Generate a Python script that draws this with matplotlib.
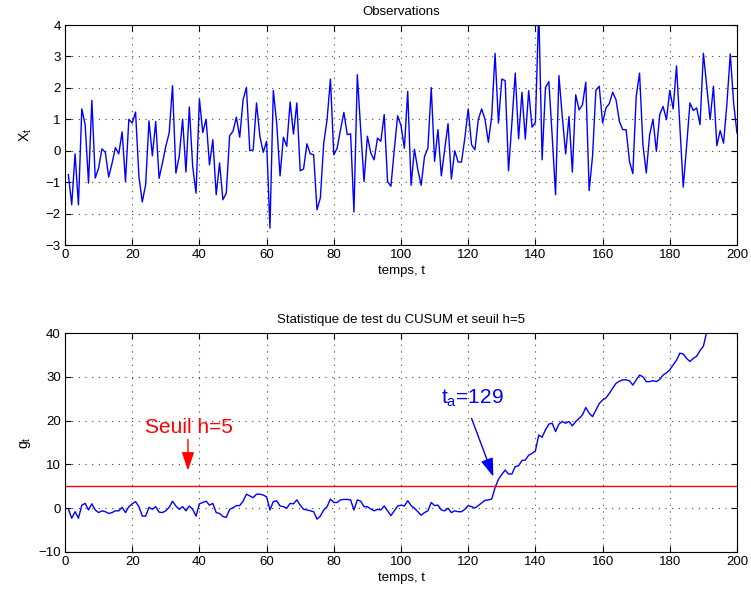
import numpy as np
import matplotlib
matplotlib.use("Agg")
import matplotlib.pyplot as plt

plt.rcParams['font.family'] = ['Liberation Sans', 'DejaVu Sans']
plt.rcParams['mathtext.fontset'] = 'custom'
plt.rcParams['mathtext.rm'] = 'Liberation Sans'
plt.rcParams['mathtext.it'] = 'Liberation Sans'

# ---- data ----
t = list(range(1, 201))
observations = [
    -0.76, -1.72, -0.10, -1.72, 1.33, 0.83, -1.03, 1.60, -0.87, -0.55,
    0.06, -0.05, -0.84, -0.40, 0.10, -0.10, 0.60, -0.98, 1.00, 0.88,
    1.23, -0.82, -1.63, -1.08, 0.95, -0.16, 0.93, -0.88, -0.39, 0.14,
    0.56, 2.07, -0.71, -0.18, 1.00, -0.68, 1.39, -0.50, -1.35, 1.65,
    0.58, 1.00, -0.45, 0.35, -1.40, -0.39, -1.56, -1.35, 0.48, 0.62,
    1.07, 0.43, 1.62, 2.01, 0.00, 0.03, 1.52, 0.46, -0.05, 0.30,
    -2.46, 1.92, 0.88, -0.80, 0.43, 0.14, 1.55, 0.53, 1.52, -0.64,
    -0.58, 0.22, -0.10, -0.13, -1.88, -1.50, 0.24, 0.99, 2.28, -0.13,
    0.08, 0.67, 1.22, 0.51, 0.54, -1.95, 2.42, 0.67, -0.98, 0.46,
    -0.07, -0.29, 0.40, 0.30, 1.15, -0.98, -1.13, 0.03, 1.11, 0.80,
    0.08, 1.89, -1.10, 0.05, -0.60, -1.10, -0.18, 0.08, 2.01, -0.34,
    0.67, -0.80, 0.03, 0.86, -0.90, 0.00, -0.36, -0.36, 0.40, 1.33,
    0.19, 0.03, 0.99, 1.33, 1.00, 0.27, 1.10, 3.10, 0.88, 2.28,
    2.23, -0.64, 0.88, 2.47, 0.38, 1.86, 0.37, 1.91, 0.75, 0.90,
    4.50, -0.29, 2.01, 2.20, 0.46, -1.40, 2.39, 1.09, -0.10, 1.09,
    -0.68, 1.78, 1.30, 1.46, 2.18, -1.27, -0.18, 1.92, 2.05, 0.88,
    1.36, 1.50, 1.86, 1.62, 0.93, 0.67, 0.67, -0.34, -0.73, 1.73,
    2.47, 0.19, -0.71, 0.51, 1.00, -0.02, 1.15, 1.41, 0.99, 1.92,
    1.33, 2.70, 0.77, -1.16, 0.14, 1.52, 1.28, 1.36, 0.83, 3.10,
    2.05, 0.99, 2.05, 0.16, 0.64, 0.24, 1.50, 3.08, 1.52, 0.56,
]
cusum = [
    -0.2, -2.3, -0.8, -2.3, 0.7, 1.1, -0.4, 1.0, -0.4, -1.0,
    -0.6, -0.8, -1.2, -1.0, -0.6, -0.6, 0.2, -1.0, 0.35, 1.0,
    1.5, 0.35, -1.8, -1.8, 0.2, -0.25, 0.35, -0.9, -1.0, -0.6,
    0.2, 1.6, 0.5, -0.25, 0.35, -0.6, 0.5, -0.25, -1.8, 1.0,
    1.3, 1.6, 0.7, 1.1, -1.0, -1.2, -1.9, -2.1, -0.25, 0.1,
    0.6, 0.6, 1.6, 3.2, 2.8, 2.4, 3.2, 3.2, 3.0, 2.6,
    -0.4, 1.5, 1.7, 0.5, 0.35, 0.0, 1.1, 1.0, 1.9, 0.7,
    -0.25, -0.4, -0.6, -0.8, -2.5, -1.8, -0.4, 0.35, 2.1, 1.3,
    1.3, 1.9, 2.0, 2.0, 1.9, -0.4, 1.9, 1.6, 0.35, 0.35,
    -0.2, -0.6, -0.25, -0.4, 0.5, -0.6, -1.7, -0.6, 0.5, 0.7,
    0.5, 1.7, 0.6, 0.0, -0.8, -1.6, -1.0, -0.6, 1.3, 0.6,
    0.7, -0.4, -0.6, 0.0, -1.0, -0.6, -0.8, -0.8, -0.25, 0.6,
    0.35, 0.05, 0.6, 1.2, 1.8, 1.9, 2.1, 4.7, 6.6, 7.7,
    8.7, 7.8, 7.8, 9.5, 9.7, 10.9, 11.0, 12.1, 12.5, 13.1,
    16.7, 16.2, 17.9, 19.2, 19.4, 17.5, 19.2, 19.8, 19.4, 19.8,
    18.8, 19.8, 20.5, 21.3, 23.0, 21.7, 20.9, 22.4, 23.9, 24.7,
    25.2, 26.2, 27.4, 28.5, 29.0, 29.3, 29.3, 29.1, 28.1, 29.3,
    30.4, 30.0, 28.9, 28.9, 29.1, 28.9, 29.4, 30.4, 30.9, 31.6,
    32.7, 33.8, 35.4, 35.2, 34.2, 33.5, 34.2, 34.7, 36.0, 37.0,
    40.3, 41.5, 42.5, 42.3, 43.0, 44.0, 46.0, 47.0, 47.5, 48.0,
]
threshold = 5
t_alarm = 129
xticks = [0, 20, 40, 60, 80, 100, 120, 140, 160, 180, 200]
yticks_top = [-3, -2, -1, 0, 1, 2, 3, 4]
yticks_bot = [-10, 0, 10, 20, 30, 40]

fig = plt.figure(figsize=(7.51, 5.97), dpi=100)
ax1 = fig.add_axes([65/751, 1-245/597, 672/751, 220/597])
ax2 = fig.add_axes([65/751, 1-552/597, 672/751, 219/597])

def style(ax):
    ax.tick_params(direction='in', top=True, right=True, length=4,
                   width=0.8, labelsize=9.5, pad=3)
    ax.grid(True, linestyle=(0, (1, 5)), color='0.25', linewidth=0.8)
    for s in ax.spines.values():
        s.set_linewidth(0.8)
    ax.set_xticks(xticks)
    ax.set_xlim(0, 200)

ax1.plot(t, observations, color=(0, 0, 1), lw=1.0)
style(ax1)
ax1.set_ylim(-3, 4)
ax1.set_yticks(yticks_top)
ax1.set_title('Observations', fontsize=9.5, pad=7)
ax1.set_xlabel('temps, t', fontsize=9.5, labelpad=3)
ax1.set_ylabel(r'X$_\mathregular{t}$', fontsize=10, labelpad=8)

ax2.plot(t, cusum, color=(0, 0, 1), lw=1.0)
ax2.axhline(threshold, color=(1, 0, 0), lw=1.0)
style(ax2)
ax2.set_ylim(-10, 40)
ax2.set_yticks(yticks_bot)
ax2.set_title('Statistique de test du CUSUM et seuil h=5', fontsize=9.5, pad=7)
ax2.set_xlabel('temps, t', fontsize=9.5, labelpad=3)
ax2.set_ylabel(r'g$_\mathregular{t}$', fontsize=10, labelpad=4)

head = '-|>,head_length=0.8,head_width=0.27'
ax2.annotate('', xy=(36.6, 8.6), xytext=(36.6, 15.7),
             arrowprops=dict(arrowstyle=head, color=(1, 0, 0), lw=1.0,
                             mutation_scale=14, shrinkA=0, shrinkB=0))
ax2.text(23.8, 17.1, 'Seuil h=5', color=(1, 0, 0), fontsize=15,
         ha='left', va='baseline')
ax2.annotate('', xy=(127.5, 7.2), xytext=(121.0, 20.5),
             arrowprops=dict(arrowstyle=head, color=(0, 0, 1), lw=1.0,
                             mutation_scale=14, shrinkA=0, shrinkB=0))
ax2.text(112.0, 23.8, r'$\mathregular{t_a}$=%d' % t_alarm, color=(0, 0, 1),
         fontsize=15, ha='left', va='baseline')

fig.savefig('out.png', dpi=100)
